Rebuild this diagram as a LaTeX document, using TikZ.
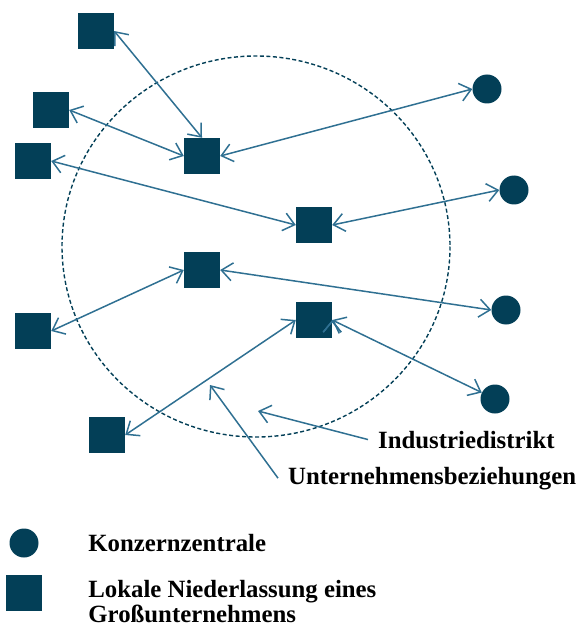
\documentclass[tikz,border=0pt]{standalone}
\usepackage{fontspec}
\setmainfont{Liberation Serif}
\usetikzlibrary{arrows.meta, positioning}
\definecolor{dunkelblau}{HTML}{033F57}
\definecolor{pfeilblau}{HTML}{2F7092}

\begin{document}
\begin{tikzpicture}[x=1pt, y=-1pt, node distance=50pt,
        firma/.style={rectangle, fill=dunkelblau, minimum size=36pt, inner sep=0pt},
        zentrale/.style={circle, fill=dunkelblau, minimum size=29pt, inner sep=0pt},
        bez/.style={draw=pfeilblau, line width=1.5pt, {Straight Barb[length=11pt,width=18pt]}-{Straight Barb[length=11pt,width=18pt]}},
        hinweis/.style={draw=pfeilblau, line width=1.5pt, -{Straight Barb[length=11pt,width=18pt]}},
        beschriftung/.style={font=\fontsize{24.8}{25}\selectfont\bfseries, inner sep=0pt, align=left}]
        \useasboundingbox (0,0) rectangle (579,628);

        % Define the district
        \draw[dunkelblau, line width=1.4pt, dash pattern=on 4pt off 2.5pt] (256,246.5) ellipse (194 and 190.5);

        % Define the nodes
        \node[firma] (f_1) at (96,31) {};
        \node[firma] (f_2) at (51,110) {};
        \node[firma] (f_3) at (33,161) {};
        \node[firma] (f_4) at (202,156) {};
        \node[firma] (f_5) at (314,225) {};
        \node[firma] (f_6) at (202,270) {};
        \node[firma] (f_7) at (33,331) {};
        \node[firma] (f_8) at (314,320) {};
        \node[firma] (f_9) at (107,435) {};
        \node[zentrale] (z_1) at (487,89) {};
        \node[zentrale] (z_2) at (514,190) {};
        \node[zentrale] (z_3) at (506,310) {};
        \node[zentrale] (z_4) at (495,399) {};

        % Define the relations
        \path[bez]
        (f_1.east) edge (f_4.north)
        (f_2.east) edge (f_4.west)
        (f_3.east) edge (f_5.west)
        (f_4.east) edge (z_1.west)
        (f_5.east) edge (z_2.west)
        (f_6.west) edge (f_7.east)
        (f_6.east) edge (z_3.west)
        (f_8.west) edge (f_9.east)
        (f_8.east) edge (z_4);

        % Define the labels
        \node[beschriftung, anchor=base west] (ind) at (378,448) {Industriedistrikt};
        \node[beschriftung, anchor=base west] (ub) at (288,484) {Unternehmensbeziehungen};
        \coordinate (idziel) at (258,411);
        \coordinate (ubziel) at (210,385);
        \draw[hinweis] ([xshift=-10pt]ind.west) -- (idziel);
        \draw[hinweis] ([xshift=-10pt]ub.west) -- (ubziel);

        % Define the legend
        \node[zentrale] (legz) at (24,543) {};
        \node[firma] (legf) at (24,593) {};
        \node[beschriftung, right=49.5pt of legz] (legztext) {Konzernzentrale};
        \node[beschriftung, right=46pt of legf.north east, anchor=north west, yshift=-5pt] (legftext) {Lokale Niederlassung eines\\Großunternehmens};
\end{tikzpicture}
\end{document}
